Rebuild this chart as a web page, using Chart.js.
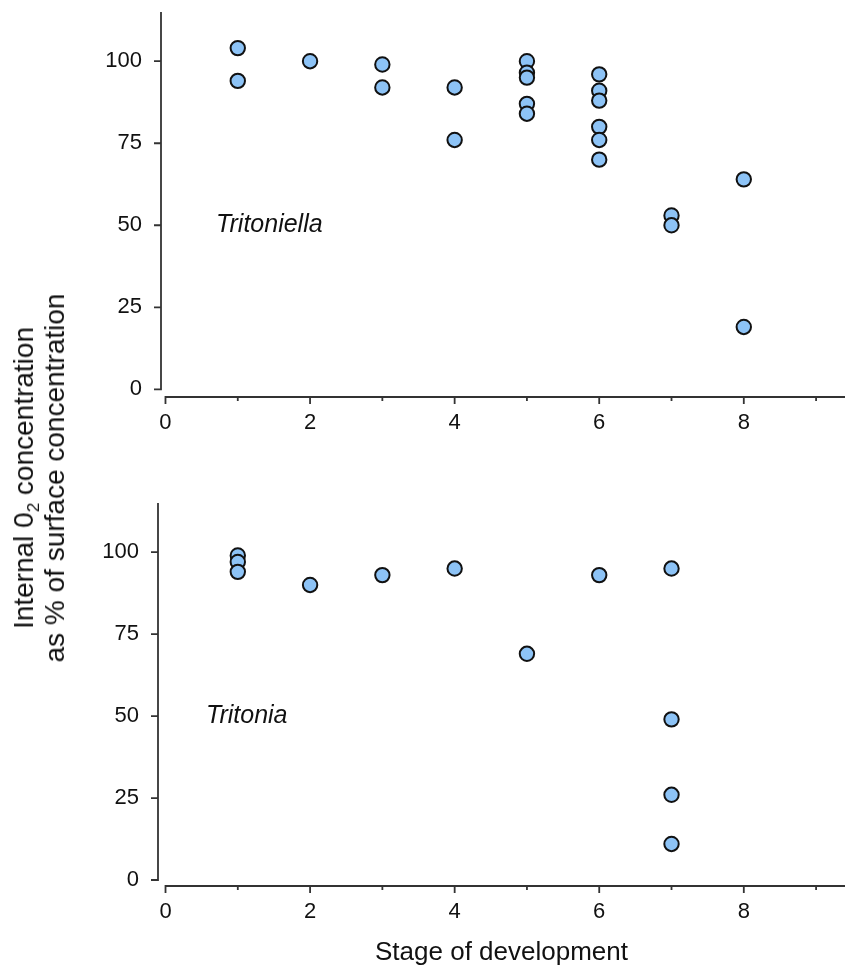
<!DOCTYPE html>
<html>
<head>
<meta charset="utf-8">
<script src="https://cdn.jsdelivr.net/npm/chart.js@4/dist/chart.umd.min.js"></script>
<style>
    body { margin: 0; background: #fff; }
    #page { position: relative; width: 845px; height: 975px; overflow: hidden; font-family: "Liberation Sans", Arial, sans-serif; }
    canvas { position: absolute; left: 0; }
    #topChart { top: 0; }
    #bottomChart { top: 440px; }
    #yTitle {
        position: absolute; left: 39px; top: 478px;
        transform: translate(-50%, -50%) rotate(-90deg);
        white-space: nowrap; text-align: center;
        font-size: 28px; line-height: 31px; color: #111;
    }
    #yTitle sub { font-size: 17px; line-height: 0; vertical-align: -6px; }
</style>
</head>
<body>
<div id="page">
    <canvas id="topChart" width="845" height="440"></canvas>
    <canvas id="bottomChart" width="845" height="535"></canvas>
    <div id="yTitle">Internal 0<sub>2</sub> concentration<br>as % of surface concentration</div>
</div>
<script>
const xTicks = [0, 1, 2, 3, 4, 5, 6, 7, 8, 9];
const yTicks = [0, 25, 50, 75, 100];

// Tritoniella (top panel)
const tritoniellaStage = [1, 1, 2, 3, 3, 4, 4, 5, 5, 5, 5, 5, 6, 6, 6, 6, 6, 6, 7, 7, 8, 8];
const tritoniellaO2 = [104, 94, 100, 99, 92, 92, 76, 100, 96.5, 95, 87, 84, 96, 91, 88, 80, 76, 70, 53, 50, 64, 19];

// Tritonia (bottom panel)
const tritoniaStage = [1, 1, 1, 2, 3, 4, 5, 6, 7, 7, 7, 7];
const tritoniaO2 = [99, 97, 94, 90, 93, 95, 69, 93, 95, 49, 26, 11];

const FONT = '"Liberation Sans", Arial, sans-serif';
const INK = '#111';
const AXIS = '#333';

// detached SigmaPlot-style axes: lines start at 0, odd x ticks are short
const axesPlugin = {
    id: 'axes',
    afterDraw(chart) {
        const { ctx, chartArea, scales: { x, y } } = chart;
        const x0 = x.getPixelForValue(0);
        const y0 = y.getPixelForValue(0);
        ctx.save();
        ctx.strokeStyle = AXIS;
        ctx.lineWidth = 1.8;
        ctx.beginPath();
        ctx.moveTo(chartArea.left, chartArea.top);
        ctx.lineTo(chartArea.left, y0 + 0.9);
        yTicks.forEach(v => {
            const py = y.getPixelForValue(v);
            ctx.moveTo(chartArea.left - 7, py);
            ctx.lineTo(chartArea.left, py);
        });
        ctx.moveTo(x0 - 0.9, chartArea.bottom);
        ctx.lineTo(chartArea.right, chartArea.bottom);
        xTicks.forEach(v => {
            const px = x.getPixelForValue(v);
            ctx.moveTo(px, chartArea.bottom);
            ctx.lineTo(px, chartArea.bottom + (v % 2 === 0 ? 7 : 4));
        });
        ctx.stroke();

        const lbl = chart.options.plugins.axes;
        ctx.fillStyle = INK;
        ctx.font = 'italic 25px ' + FONT;
        ctx.textAlign = 'left';
        ctx.textBaseline = 'middle';
        ctx.fillText(lbl.text, x.getPixelForValue(lbl.x), y.getPixelForValue(lbl.y));
        ctx.restore();
    }
};

function makeChart(id, stage, o2, opts) {
    const points = stage.map((s, i) => ({ x: s, y: o2[i] }));
    return new Chart(document.getElementById(id), {
        type: 'scatter',
        data: {
            datasets: [{
                data: points,
                backgroundColor: '#8dc3f6',
                borderColor: '#111',
                borderWidth: 2,
                pointRadius: 7.2,
                pointHoverRadius: 7.2
            }]
        },
        options: {
            responsive: false,
            animation: false,
            layout: {
                autoPadding: false,
                padding: { top: opts.padTop, left: 0, right: 0, bottom: 0 }
            },
            plugins: {
                legend: { display: false },
                tooltip: { enabled: false },
                axes: { text: opts.label, x: opts.labelX, y: 50 }
            },
            scales: {
                x: {
                    type: 'linear',
                    min: opts.xMin,
                    max: 9.4,
                    afterBuildTicks: s => { s.ticks = xTicks.map(v => ({ value: v })); },
                    afterFit: s => {
                        s.height = opts.xHeight;
                        s.paddingLeft = 0;
                        s.paddingRight = 0;
                    },
                    grid: { display: false, drawTicks: false },
                    border: { display: false },
                    ticks: {
                        padding: 13,
                        color: INK,
                        font: { family: FONT, size: 22 },
                        maxRotation: 0,
                        autoSkip: false,
                        callback: v => (v % 2 === 0 ? String(v) : '')
                    },
                    title: {
                        display: !!opts.xTitle,
                        text: opts.xTitle || '',
                        color: INK,
                        font: { family: FONT, size: 26 },
                        padding: { top: 0, bottom: 7 }
                    }
                },
                y: {
                    type: 'linear',
                    min: opts.yMin,
                    max: 115,
                    afterBuildTicks: s => { s.ticks = yTicks.map(v => ({ value: v })); },
                    afterFit: s => {
                        s.width = opts.yWidth;
                        s.paddingTop = 0;
                        s.paddingBottom = 0;
                    },
                    grid: { display: false, drawTicks: false },
                    border: { display: false },
                    ticks: {
                        padding: 19,
                        color: INK,
                        font: { family: FONT, size: 22 }
                    }
                }
            }
        },
        plugins: [axesPlugin]
    });
}

makeChart('topChart', tritoniellaStage, tritoniellaO2, {
    label: 'Tritoniella', labelX: 0.70,
    padTop: 12, xHeight: 43, yWidth: 161,
    xMin: -0.062, yMin: -2.34
});

makeChart('bottomChart', tritoniaStage, tritoniaO2, {
    label: 'Tritonia', labelX: 0.56,
    padTop: 63, xHeight: 89, yWidth: 158,
    xMin: -0.104, yMin: -1.83,
    xTitle: 'Stage of development'
});
</script>
</body>
</html>
